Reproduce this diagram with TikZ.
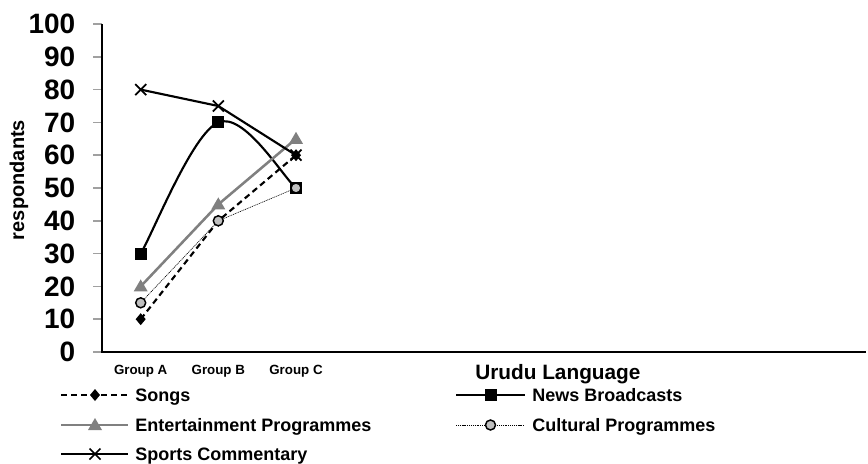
\documentclass[tikz,border=0pt]{standalone}
\usepackage{fontspec}
\setmainfont{Liberation Sans}
\definecolor{serGray}{HTML}{808080}
\definecolor{mkGray}{HTML}{C0C0C0}
\definecolor{tickGray}{HTML}{A0A0A0}
\begin{document}
\begin{tikzpicture}[x=0.75pt,y=-0.75pt,
  ticklab/.style={anchor=east,inner sep=0pt,font=\fontsize{21pt}{21pt}\selectfont\bfseries},
  grouplab/.style={anchor=base,inner sep=0pt,font=\fontsize{10pt}{10pt}\selectfont\bfseries},
  leglab/.style={anchor=base west,inner sep=0pt,font=\fontsize{13.5pt}{13.5pt}\selectfont\bfseries},
  titlelab/.style={anchor=base west,inner sep=0pt,font=\fontsize{15.6pt}{15.6pt}\selectfont\bfseries},
  axislab/.style={rotate=90,inner sep=0pt,font=\fontsize{15pt}{15pt}\selectfont\bfseries},
  axisline/.style={draw=black,line width=1.1pt},
  tickline/.style={draw=tickGray,line width=1.1pt},
  songsline/.style={draw=black,line width=1.6pt,dash pattern=on 4.5pt off 3pt},
  newsline/.style={draw=black,line width=1.6pt},
  entline/.style={draw=serGray,line width=1.9pt},
  cultline/.style={draw=black,line width=0.45pt,dash pattern=on 0.8pt off 0.6pt},
  sportline/.style={draw=black,line width=1.6pt},
  mkdiamond/.pic={\fill[black] (0,-6) -- (5,0) -- (0,6) -- (-5,0) -- cycle;},
  mksquare/.pic={\fill[black] (-6,-6) rectangle (6,6);},
  mktri/.pic={\fill[serGray] (0,-7) -- (7,5) -- (-7,5) -- cycle;},
  mkcirc/.pic={\filldraw[fill=mkGray,draw=black,line width=1.1pt] (0,0) circle[radius=5];},
  mkcross/.pic={\draw[black,line width=1.3pt] (-5.5,-5.5) -- (5.5,5.5) (-5.5,5.5) -- (5.5,-5.5);}
]
\useasboundingbox (0,0) rectangle (868,464);

% y ticks and labels
\foreach \v in {0,10,...,100}{
  \pgfmathsetmacro{\yy}{352-3.28*\v}
  \draw[tickline] (93,\yy) -- (102,\yy);
  \node[ticklab] (t\v) at (75.5,\yy) {\v};
}
% axes
\draw[axisline] (102,24) -- (102,352) -- (866,352);

% axis label
\node[axislab] (ylab) at (19,180) {respondants};

% group labels
\node[grouplab] (gA) at (140.7,374.5) {Group A};
\node[grouplab] (gB) at (218.3,374.5) {Group B};
\node[grouplab] (gC) at (296,374.5) {Group C};

% title
\node[titlelab] (title) at (475,379) {Urudu Language};

% data coordinates
\coordinate (sA) at (140.7,319.2);
\coordinate (sB) at (218.3,220.8);
\coordinate (sC) at (296,155.2);
\coordinate (nA) at (140.7,253.6);
\coordinate (nB) at (218.3,122.4);
\coordinate (nC) at (296,188);
\coordinate (eA) at (140.7,286.4);
\coordinate (eB) at (218.3,204.4);
\coordinate (eC) at (296,138.8);
\coordinate (cA) at (140.7,302.8);
\coordinate (cB) at (218.3,220.8);
\coordinate (cC) at (296,188);
\coordinate (pA) at (140.7,89.6);
\coordinate (pB) at (218.3,106);
\coordinate (pC) at (296,155.2);

% Songs
\draw[songsline] (sA) -- (sB) -- (sC);
\foreach \p in {sA,sB,sC} \pic at (\p) {mkdiamond};
% News (smoothed)
\draw[newsline] (nA) .. controls (153.6,231.7) and (192.4,133.3) .. (nB)
  .. controls (244.2,111.5) and (283.05,177.1) .. (nC);
\foreach \p in {nA,nB,nC} \pic at (\p) {mksquare};
% Entertainment
\draw[entline] (eA) -- (eB) -- (eC);
\foreach \p in {eA,eB,eC} \pic at (\p) {mktri};
% Cultural
\draw[cultline] (cA) -- (cB) -- (cC);
\foreach \p in {cA,cB,cC} \pic at (\p) {mkcirc};
% Sports
\draw[sportline] (pA) -- (pB) -- (pC);
\foreach \p in {pA,pB,pC} \pic at (\p) {mkcross};

% legend
\coordinate (l1a) at (61,395);  \coordinate (l1b) at (128,395); \coordinate (l1m) at (95,395);
\coordinate (l2a) at (61,425);  \coordinate (l2b) at (128,425); \coordinate (l2m) at (95,425);
\coordinate (l3a) at (61,454);  \coordinate (l3b) at (128,454); \coordinate (l3m) at (95,454);
\coordinate (r1a) at (456,395); \coordinate (r1b) at (525,395); \coordinate (r1m) at (490.5,395);
\coordinate (r2a) at (456,425); \coordinate (r2b) at (525,425); \coordinate (r2m) at (490.5,425);

\draw[songsline] (l1a) -- (l1b); \pic at (l1m) {mkdiamond};
\node[leglab] (lg1) at (135,401.5) {Songs};
\draw[entline] (l2a) -- (l2b); \pic at (l2m) {mktri};
\node[leglab] (lg2) at (135,431.5) {Entertainment Programmes};
\draw[sportline] (l3a) -- (l3b); \pic at (l3m) {mkcross};
\node[leglab] (lg3) at (135,460.5) {Sports Commentary};
\draw[newsline] (r1a) -- (r1b); \pic at (r1m) {mksquare};
\node[leglab] (lg4) at (532,401.5) {News Broadcasts};
\draw[cultline] (r2a) -- (r2b); \pic at (r2m) {mkcirc};
\node[leglab] (lg5) at (532,431.5) {Cultural Programmes};
\end{tikzpicture}
\end{document}
